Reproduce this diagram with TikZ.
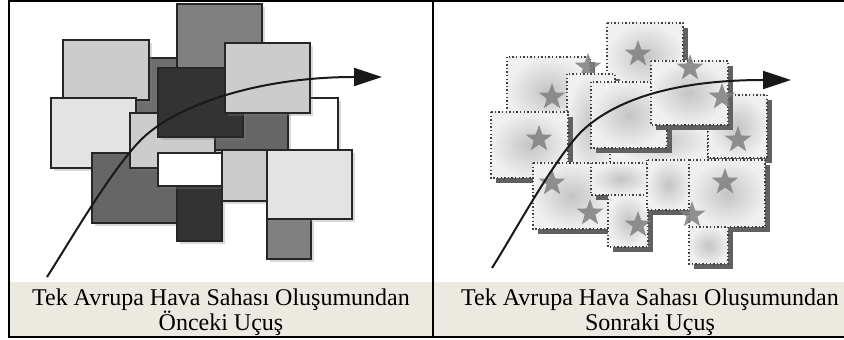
\documentclass[tikz,border=0pt]{standalone}
\usepackage{fontspec}
\setmainfont{Liberation Serif}
\usetikzlibrary{
    arrows.meta,
    shapes.geometric,
    shadows
}
\definecolor{band}{HTML}{ECE9E0}
\tikzset{
    sqr/.style={draw=black!85, line width=.7pt, fill=#1,
        drop shadow={shadow xshift=1.6pt, shadow yshift=-1.6pt, opacity=.3}},
    tile/.style={inner color=black!23, outer color=black!6, draw=black!75,
        line width=.7pt, dash pattern=on .7pt off 1.1pt,
        drop shadow={shadow xshift=2.5pt, shadow yshift=-2.5pt, opacity=1, fill=black!62}},
    estar/.style={star, star points=5, star point ratio=2.5, fill=black!50,
        opacity=.85, inner sep=0pt, minimum size=14pt},
    flight/.style={line width=1pt, black!90, -{Triangle[length=14pt,width=9pt]}},
    capt/.style={align=center, inner sep=0pt, font=\fontsize{12}{12.5}\selectfont}
}

\begin{document}
\begin{tikzpicture}[x=0.5pt, y=-0.5pt]
    \useasboundingbox (0,0) rectangle (844,340);
    % frame and caption band
    \fill[band] (9,282) rectangle (844,337);
    \draw[line width=1.2pt] (844,1) -- (9,1) -- (9,337) -- (844,337);
    \draw[line width=1.2pt] (433,1) -- (433,337);
    \node[capt] (lcap) at (221,312) {Tek Avrupa Hava Sahası Oluşumundan\\Önceki Uçuş};
    \node[capt] (rcap) at (650,312) {Tek Avrupa Hava Sahası Oluşumundan\\Sonraki Uçuş};
    % before
    \draw[sqr=black!57] (132,58) rectangle (178,115);
    \draw[sqr=black!50] (177,4) rectangle (262,150);
    \draw[sqr=black!20] (63,40) rectangle (149,100);
    \draw[sqr=black!11] (51,98) rectangle (136,168);
    \draw[sqr=black!60] (92,153) rectangle (177,223);
    \draw[sqr=black!20] (130,113) rectangle (215,168);
    \draw[sqr=white] (250,98) rectangle (338,150);
    \draw[sqr=black!60] (215,100) rectangle (288,150);
    \draw[sqr=black!80] (158,68) rectangle (243,137);
    \draw[sqr=black!20] (225,43) rectangle (310,113);
    \draw[sqr=black!80] (177,186) rectangle (222,241);
    \draw[sqr=white] (158,153) rectangle (222,186);
    \draw[sqr=black!20] (222,150) rectangle (267,201);
    \draw[sqr=black!50] (267,219) rectangle (311,259);
    \draw[sqr=black!11] (267,150) rectangle (352,219);
    \coordinate (lfrom) at (47,277);
    \coordinate (lto) at (382,77);
    \draw[flight] (lfrom) .. controls (69,243) and (115,163) .. (145,136)
        .. controls (182,103) and (262,77) .. (lto);
    % after
    \draw[tile] (607,23) rectangle (683,90);
    \draw[tile] (507,57) rectangle (590,125);
    \node[estar] (s2) at (588,67) {};
    \draw[tile] (567,74) rectangle (615,177);
    \draw[tile] (610,118) rectangle (708,163);
    \draw[tile] (708,95) rectangle (767,158);
    \draw[tile] (591,82) rectangle (667,148);
    \draw[tile] (651,61) rectangle (728,125);
    \draw[tile] (491,112) rectangle (568,178);
    \draw[tile] (533,163) rectangle (610,229);
    \draw[tile] (591,163) rectangle (650,195);
    \draw[tile] (608,195) rectangle (648,247);
    \draw[tile] (647,160) rectangle (690,210);
    \draw[tile] (689,160) rectangle (765,227);
    \draw[tile] (689,227) rectangle (728,264);
    \node[estar] (s1) at (638,54) {};
    \node[estar] (s3) at (552,97) {};
    \node[estar] (s4) at (690,68) {};
    \node[estar] (s5) at (722,97) {};
    \node[estar] (s6) at (738,140) {};
    \node[estar] (s7) at (539,139) {};
    \node[estar] (s8) at (552,183) {};
    \node[estar] (s9) at (590,213) {};
    \node[estar] (s10) at (638,225) {};
    \node[estar] (s11) at (725,182) {};
    \node[estar] (s12) at (692,215) {};
    \coordinate (rfrom) at (492,268);
    \coordinate (rto) at (791,80);
    \draw[flight] (rfrom) .. controls (516,230) and (554,159) .. (582,131)
        .. controls (618,97) and (681,80) .. (rto);
\end{tikzpicture}
\end{document}
